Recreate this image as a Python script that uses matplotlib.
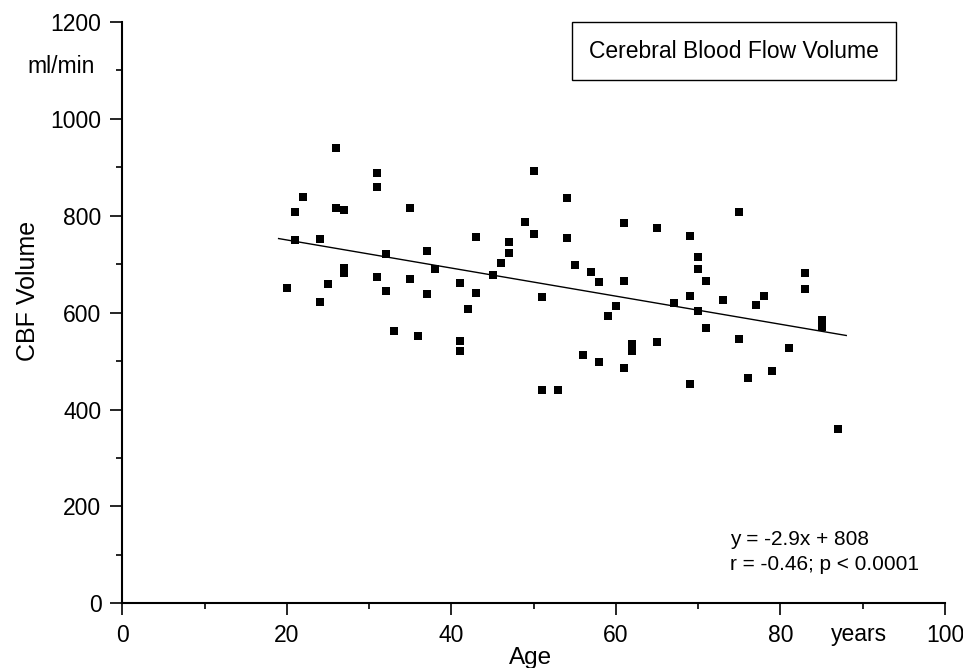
#!/usr/bin/env python3
"""Cerebral blood flow volume vs age: scatter with linear fit."""
import numpy as np
import matplotlib
matplotlib.use('Agg')
import matplotlib.pyplot as plt
from matplotlib.ticker import MultipleLocator

plt.rcParams['font.family'] = ['Liberation Sans', 'DejaVu Sans']

# --- Data ---
AGE = [26, 31, 31, 50, 22, 21, 26, 27, 35, 49, 50, 21, 24, 43, 47, 47, 32, 37, 46,
       38, 27, 27, 45, 31, 35, 41, 20, 25, 32, 37, 43, 51, 24, 42, 33, 36, 41, 41,
       51, 54, 54, 61, 65, 75, 69, 70, 70, 71, 55, 57, 58, 61, 60, 59, 67, 69, 70,
       73, 77, 78, 83, 83, 85, 85, 71, 75, 62, 62, 65, 56, 58, 61, 81, 79, 76, 69,
       53, 87]
CBF = [940, 888, 860, 893, 839, 808, 817, 812, 815, 788, 762, 750, 752, 756, 746,
       724, 721, 727, 703, 690, 692, 681, 677, 674, 670, 661, 651, 659, 645, 639,
       641, 632, 621, 608, 562, 551, 541, 521, 440, 837, 754, 786, 775, 808, 758,
       714, 690, 666, 698, 683, 663, 665, 614, 592, 619, 634, 603, 627, 616, 635,
       681, 649, 584, 570, 569, 546, 535, 521, 539, 512, 498, 486, 526, 480, 466,
       452, 440, 360]

SLOPE = -2.9
INTERCEPT = 808
FIT_RANGE = [19, 88]

TITLE = 'Cerebral Blood Flow Volume'
EQ_TEXT = 'y = -2.9x + 808'
STAT_TEXT = 'r = -0.46; p < 0.0001'


def main():
    fig = plt.figure(figsize=(9.63, 6.68), dpi=100)
    ax = fig.add_axes([0.127, 0.0969, 0.8543, 0.8702])

    ax.scatter(AGE, CBF, marker='s', s=28, c='black', linewidths=0, zorder=3)

    fx = np.array(FIT_RANGE, dtype=float)
    ax.plot(fx, SLOPE * fx + INTERCEPT, color='black', lw=1.0, zorder=2)

    ax.set_xlim(0, 100)
    ax.set_ylim(0, 1200)
    ax.xaxis.set_major_locator(MultipleLocator(20))
    ax.xaxis.set_minor_locator(MultipleLocator(10))
    ax.yaxis.set_major_locator(MultipleLocator(200))
    ax.yaxis.set_minor_locator(MultipleLocator(100))

    for side in ['top', 'right']:
        ax.spines[side].set_visible(False)
    for side in ['left', 'bottom']:
        ax.spines[side].set_linewidth(1.5)

    ax.tick_params(which='major', direction='out', length=8.5, width=1.2,
                   labelsize=16.5, pad=6.5, color='black')
    ax.tick_params(which='minor', direction='out', length=4.5, width=1.2)

    # axis labels and units placed as free text, like the original
    ax.text(-11.5, 645, 'CBF Volume', rotation=90, ha='center', va='center',
            fontsize=18, clip_on=False)
    ax.text(-3.4, 1095, 'ml/min', ha='right', va='baseline', fontsize=16.5,
            clip_on=False)
    ax.text(49.6, -126, 'Age', ha='center', va='baseline', fontsize=17.5,
            clip_on=False)
    ax.text(89.5, -77, 'years', ha='center', va='baseline', fontsize=16.5,
            clip_on=False)

    ax.text(92.0, 1140, TITLE, ha='right', va='center', fontsize=16.5,
            bbox=dict(boxstyle='square,pad=0.75', fc='white', ec='black', lw=1.0))

    ax.text(73.9, 120, EQ_TEXT, ha='left', va='baseline', fontsize=15)
    ax.text(73.9, 69, STAT_TEXT, ha='left', va='baseline', fontsize=15)

    fig.savefig('out.png', dpi=100)


if __name__ == '__main__':
    main()
